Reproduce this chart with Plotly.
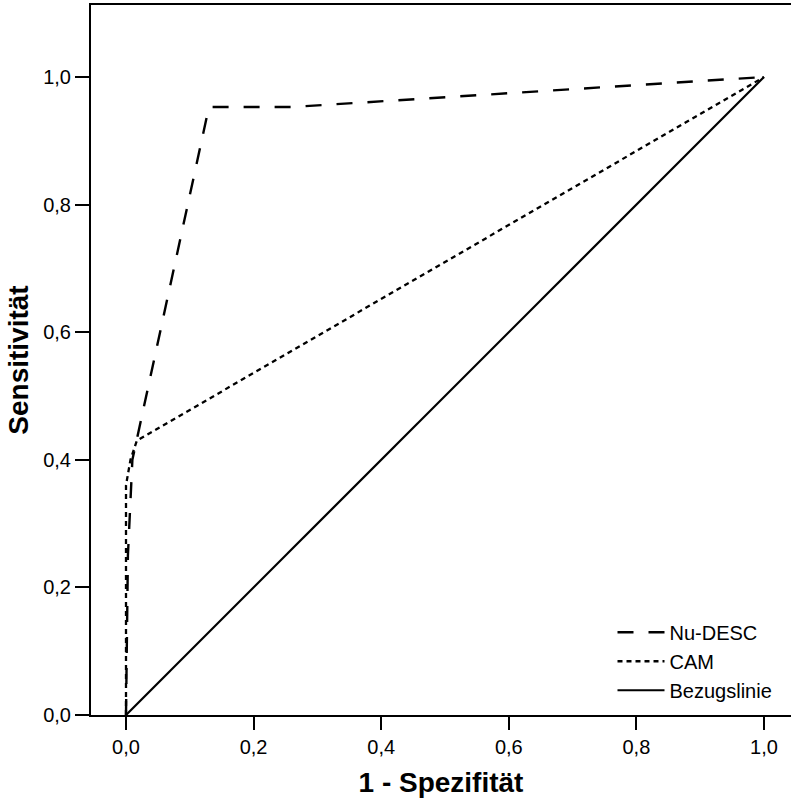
import plotly.graph_objects as go

# ROC curve data (1 - Spezifität, Sensitivität)
nudesc_x = [0.0, 0.003, 0.010, 0.130, 0.260, 1.0]
nudesc_y = [0.0, 0.250, 0.400, 0.953, 0.953, 1.0]

cam_x = [0.0, 0.0, 0.007, 0.017, 1.0]
cam_y = [0.0, 0.36, 0.400, 0.430, 1.0]

ref_x = [0.0, 1.0]
ref_y = [0.0, 1.0]

tick_vals = [0.0, 0.2, 0.4, 0.6, 0.8, 1.0]
tick_text = ["0,0", "0,2", "0,4", "0,6", "0,8", "1,0"]

FONT = "Liberation Sans, Arial, sans-serif"

fig = go.Figure()
fig.add_trace(go.Scatter(x=nudesc_x, y=nudesc_y, mode="lines", name="Nu-DESC",
                         line=dict(color="black", width=2.4, dash="16px,15px")))
fig.add_trace(go.Scatter(x=cam_x, y=cam_y, mode="lines", name="CAM",
                         line=dict(color="black", width=2.3, dash="5px,4px")))
fig.add_trace(go.Scatter(x=ref_x, y=ref_y, mode="lines", name="Bezugslinie",
                         line=dict(color="black", width=2.2)))

fig.update_layout(
    width=791, height=805,
    margin=dict(l=91, r=0, t=5, b=90),
    plot_bgcolor="white", paper_bgcolor="white",
    font=dict(family=FONT, color="black", size=20),
    legend=dict(x=0.745, y=0.144, xanchor="left", yanchor="top",
                bgcolor="rgba(0,0,0,0)", font=dict(size=20, family=FONT),
                itemwidth=47, tracegroupgap=0),
    xaxis=dict(range=[-35/638, 665/638], tickvals=tick_vals, ticktext=tick_text,
               showgrid=False, zeroline=False, showline=True, linecolor="black",
               linewidth=2, mirror=True, ticks="outside", ticklen=13, tickwidth=2,
               tickcolor="black", tickfont=dict(size=20, family=FONT),
               title=dict(text="<b>1 - Spezifität</b>", font=dict(size=28, family=FONT),
                          standoff=15)),
    yaxis=dict(range=[0, 710/638], tickvals=tick_vals, ticktext=tick_text,
               showgrid=False, zeroline=False, showline=True, linecolor="black",
               linewidth=2, ticks="outside", ticklen=14, tickwidth=2,
               tickcolor="black", tickfont=dict(size=20, family=FONT),
               title=dict(text="<b>Sensitivität</b>", font=dict(size=28, family=FONT),
                          standoff=6)),
)

fig.write_html("out.html", config={"displayModeBar": False, "staticPlot": True},
               post_script="document.body.style.margin='0px';document.body.style.overflow='hidden';")
